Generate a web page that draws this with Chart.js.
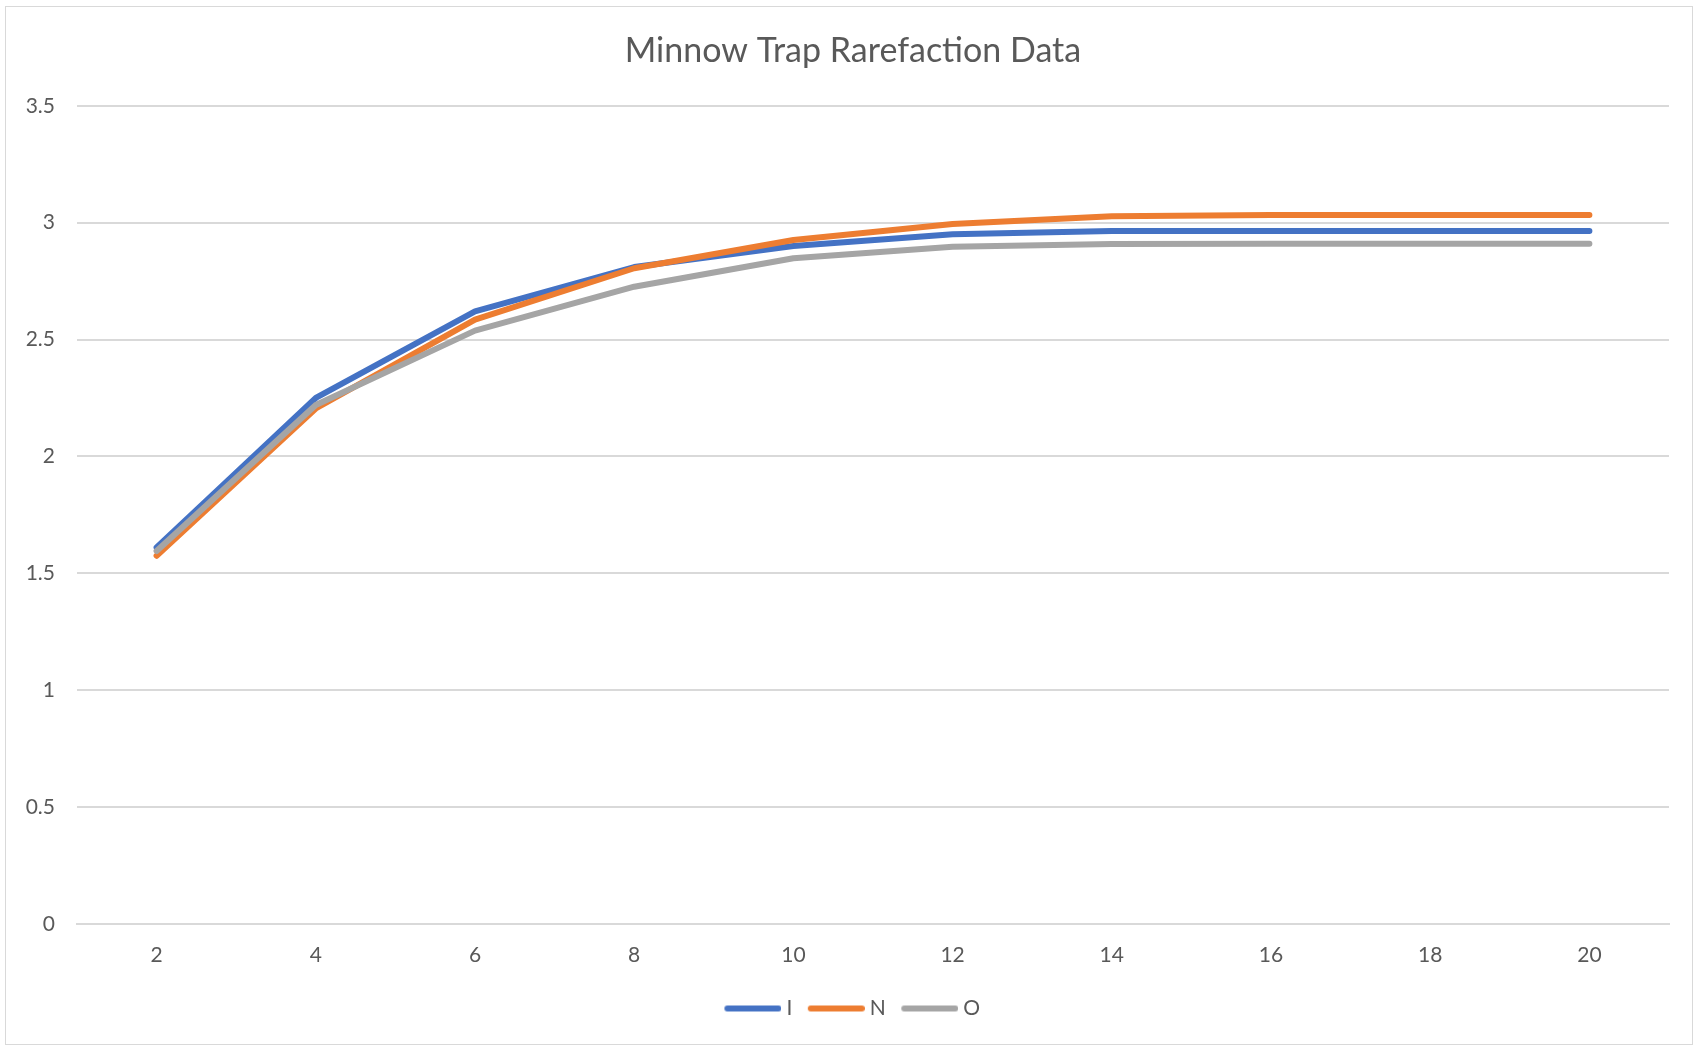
<!DOCTYPE html>
<html>
<head>
<meta charset="utf-8">
<script src="https://cdn.jsdelivr.net/npm/chart.js@4"></script>
<style>
    body { margin: 0; background: #ffffff; }
    #frame {
        position: absolute; left: 5px; top: 6px;
        width: 1686px; height: 1037px;
        border: 1px solid #d9d9d9;
    }
</style>
</head>
<body>
<div id="frame"><canvas id="rarefactionChart" width="1686" height="1037"></canvas></div>
<script>
// samples (x axis)
const samples = ["2", "4", "6", "8", "10", "12", "14", "16", "18", "20"];

// rarefaction values per trap
const seriesI = [1.61, 2.25, 2.62, 2.81, 2.90, 2.95, 2.964, 2.964, 2.964, 2.964];
const seriesN = [1.575, 2.205, 2.585, 2.805, 2.926, 2.994, 3.027, 3.033, 3.033, 3.033];
const seriesO = [1.595, 2.22, 2.538, 2.726, 2.848, 2.897, 2.909, 2.91, 2.91, 2.91];

const textColor = "#595959";
const gridColor = "#d9d9d9";

// legend marker: a short round-capped line, pushed to the right so the label sits close
function legendLine(color) {
    var c = document.createElement("canvas");
    c.width = 61;
    c.height = 8;
    var g = c.getContext("2d");
    g.strokeStyle = color;
    g.lineWidth = 6;
    g.lineCap = "round";
    g.beginPath();
    g.moveTo(7, 4);
    g.lineTo(58, 4);
    g.stroke();
    return c;
}

function lineSet(label, data, color, order) {
    return {
        label: label,
        data: data,
        borderColor: color,
        backgroundColor: color,
        borderWidth: 6,
        borderCapStyle: "round",
        borderJoinStyle: "round",
        pointRadius: 0,
        pointStyle: legendLine(color),
        tension: 0,
        fill: false,
        order: order
    };
}

var ctx = document.getElementById("rarefactionChart").getContext("2d");
new Chart(ctx, {
    type: "line",
    data: {
        labels: samples,
        datasets: [
            lineSet("I", seriesI, "#4472c4", 3),
            lineSet("N", seriesN, "#ed7d31", 2),
            lineSet("O", seriesO, "#a5a5a5", 1)
        ]
    },
    options: {
        responsive: false,
        animation: false,
        layout: { padding: { left: 8, right: 0, top: 0, bottom: 15 } },
        plugins: {
            title: {
                display: true,
                text: "Minnow Trap Rarefaction Data",
                color: textColor,
                font: { family: "Lato", size: 34, weight: "normal" },
                padding: { top: 24, bottom: 34 }
            },
            legend: {
                position: "bottom",
                labels: {
                    color: textColor,
                    font: { family: "Lato", size: 21 },
                    usePointStyle: true,
                    pointStyleWidth: 50,
                    padding: 17,
                    sort: (a, b) => a.datasetIndex - b.datasetIndex
                }
            },
            tooltip: { enabled: false }
        },
        scales: {
            x: {
                offset: true,
                afterFit: function (scale) { scale.height -= 6; },
                grid: { display: false, drawTicks: false },
                border: { display: true, color: gridColor, width: 2 },
                ticks: {
                    color: textColor,
                    font: { family: "Lato", size: 21 },
                    padding: 19,
                    maxRotation: 0
                }
            },
            y: {
                min: 0,
                max: 3.5,
                afterFit: function (scale) { scale.width = 63; },
                grid: { color: gridColor, lineWidth: 2, drawTicks: false },
                border: { display: false },
                ticks: {
                    stepSize: 0.5,
                    color: textColor,
                    font: { family: "Lato", size: 21 },
                    padding: 22,
                    callback: function (value) { return String(value); }
                }
            },
            // empty right-hand margin so the title and legend centre like the original
            spacer: {
                type: "linear",
                position: "right",
                afterFit: function (scale) { scale.width = 23; },
                grid: { display: false, drawTicks: false },
                border: { display: false },
                ticks: { display: false }
            }
        }
    }
});
</script>
</body>
</html>
